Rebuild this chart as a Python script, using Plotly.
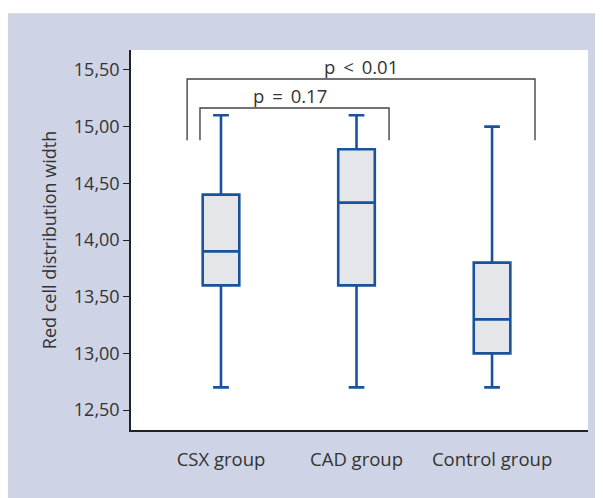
import plotly.graph_objects as go

categories = ["CSX group", "CAD group", "Control group"]
lower_whisker = [12.70, 12.70, 12.70]
q1_values = [13.60, 13.60, 13.00]
medians = [13.90, 14.33, 13.30]
q3_values = [14.40, 14.80, 13.80]
upper_whisker = [15.10, 15.10, 15.00]

y_tick_values = [12.5, 13.0, 13.5, 14.0, 14.5, 15.0, 15.5]
y_tick_labels = ["12,50", "13,00", "13,50", "14,00", "14,50", "15,00", "15,50"]

# significance brackets
bracket_labels = ["p &lt; 0.01", "p = 0.17"]
bracket_left = [-0.25, -0.155]
bracket_right = [2.317, 1.24]
bracket_top = [15.42, 15.165]
bracket_bottom = [14.88, 14.88]
label_x = [1.03, 0.51]

BLUE = "#1A539B"
FILL = "#E5E6EA"
LAV = "#CED3E6"
FONT = "Open Sans"

fig = go.Figure()
xs = list(range(len(categories)))
for i, name in enumerate(categories):
    fig.add_trace(go.Box(
        x=[xs[i]], q1=[q1_values[i]], median=[medians[i]], q3=[q3_values[i]],
        lowerfence=[lower_whisker[i]], upperfence=[upper_whisker[i]],
        name=name, width=0.27, whiskerwidth=0.43,
        fillcolor=FILL, line=dict(color=BLUE, width=2.6),
        boxpoints=False, hoverinfo="skip", showlegend=False,
    ))

shapes = []
annotations = []
for j, lab in enumerate(bracket_labels):
    l, r, t, b = bracket_left[j], bracket_right[j], bracket_top[j], bracket_bottom[j]
    shapes.append(dict(type="path", xref="x", yref="y",
                       path=f"M {l},{b} L {l},{t} L {r},{t} L {r},{b}",
                       line=dict(color="#444444", width=1.4)))
    annotations.append(dict(x=label_x[j], y=t, xref="x", yref="y",
                            text=lab.replace(" ", "\u2009 ").replace("p\u2009 ", "p \u2009"),
                            showarrow=False, yanchor="bottom", yshift=-2,
                            font=dict(family=FONT, size=18.5, color="#333333")))

# white strip at top of page
shapes.append(dict(type="rect", xref="paper", yref="paper", x0=-0.5, x1=1.2,
                   y0=1.097, y1=1.3, fillcolor="white", line=dict(width=0), layer="above"))

fig.update_layout(
    width=595, height=490,
    margin=dict(l=123, r=15, t=42, b=68),
    paper_bgcolor=LAV, plot_bgcolor="white",
    font=dict(family=FONT, color="#333333"),
    shapes=shapes, annotations=annotations,
    showlegend=False,
)
fig.update_xaxes(
    range=[-0.664, 2.708], tickvals=xs, ticktext=categories,
    showline=True, linecolor="#222222", linewidth=1.5, mirror=False,
    showgrid=False, zeroline=False, ticks="",
    tickfont=dict(family=FONT, size=18.5, color="#333333"), ticklabelstandoff=12,
)
fig.update_yaxes(
    range=[12.324, 15.676], tickvals=y_tick_values, ticktext=y_tick_labels,
    showline=True, linecolor="#222222", linewidth=1.5,
    showgrid=False, zeroline=False, ticks="outside", ticklen=6, tickcolor="#222222",
    tickfont=dict(family=FONT, size=18, color="#333333"),
    title=dict(text="Red cell distribution width", font=dict(family=FONT, size=18, color="#333333"), standoff=13),
)

fig.write_html("out.html")
